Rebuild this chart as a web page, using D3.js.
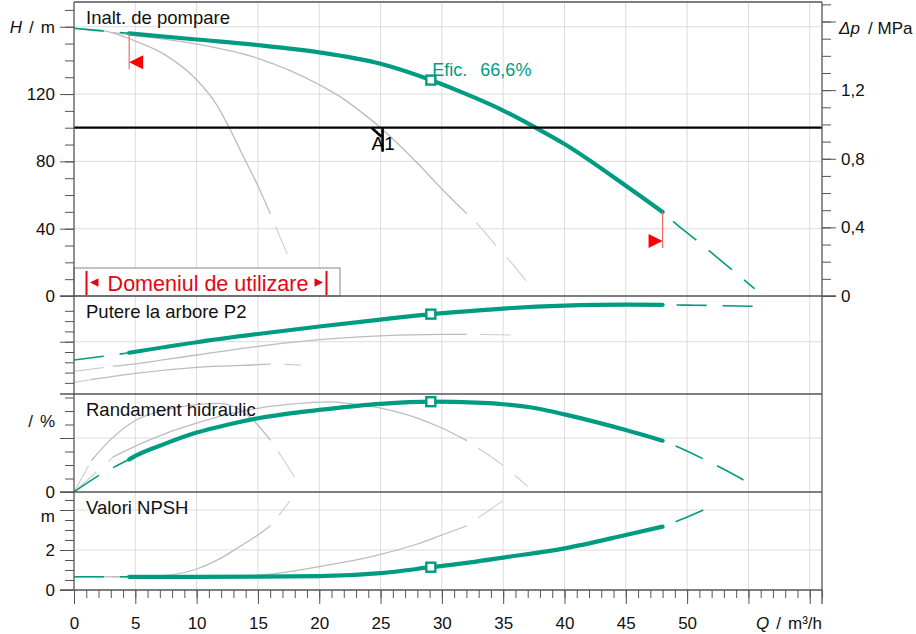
<!DOCTYPE html>
<html>
<head>
<meta charset="utf-8">
<script src="https://cdn.jsdelivr.net/npm/d3@7"></script>
<style>
  body { margin: 0; background: #fff; }
  text { font-family: "Liberation Sans", Arial, sans-serif; }
</style>
</head>
<body>
<svg id="chart" width="916" height="634"></svg>
<script>
// ---- values ----
const qTickLabels = [0, 5, 10, 15, 20, 25, 30, 35, 40, 45, 50];
const mainRange = [4.5, 48];   // Domeniul de utilizare
const smallRange = [1.44, 16];
const midRange = [3.2, 32];

// Inalt. de pompare (H, m)
const headMainQ = [0, 2.4, 4.5, 10, 15, 20, 25, 29.1, 31.1, 35, 37.65, 40, 45, 48, 49.1, 51, 52.1, 54, 55.5];
const headMain = [159.1, 157.5, 156.1, 152.4, 149.1, 144.8, 138, 128.3, 122.6, 110.2, 100, 90.3, 65.5, 49.9, 42.8, 31.7, 25.0, 13.5, 4.3];
const headSmallQ = [0, 1.44, 2.5, 5, 7.5, 10, 11.6, 12.66, 13.8, 15, 16, 16.5, 17.47];
const headSmall = [158.8, 158.4, 157.6, 151.5, 143, 128.5, 114, 100, 83, 65.4, 49.1, 40.2, 23.8];
const headMidQ = [0, 3.2, 5, 10, 15, 20, 22, 23.3, 25, 28, 30, 32, 33.1, 34.6, 35.7, 37.2];
const headMid = [159, 156.5, 154.8, 149.7, 141.2, 125.5, 117, 110, 100, 79, 63.6, 49.1, 41.2, 28.3, 19.5, 5.7];

// Putere la arbore P2 (no values printed on the sheet)
const powerMainQ = [0, 2.4, 4.5, 10, 15, 20, 25, 29.1, 31.1, 35, 40, 45, 48, 50, 53, 55.6];
const powerMain = [8.22, 8.58, 8.93, 9.95, 10.75, 11.48, 12.15, 12.68, 12.88, 13.22, 13.5, 13.6, 13.58, 13.55, 13.5, 13.43];
const powerSmallQ = [0, 1.44, 5, 10, 15, 16, 17.3, 18.55];
const powerSmall = [6.05, 6.33, 6.93, 7.51, 7.77, 7.83, 7.8, 7.74];
const powerMidQ = [0, 3.2, 5, 10, 15, 20, 25, 30, 32, 34.6, 36.6];
const powerMid = [7.12, 7.62, 7.85, 8.71, 9.55, 10.2, 10.57, 10.72, 10.72, 10.67, 10.62];

// Randament hidraulic (%)
const effMainQ = [0, 2.06, 3.3, 4.5, 5, 7.5, 10, 12.5, 15, 18.3, 20, 25, 29.1, 31, 35, 38, 40, 45, 48, 49.3, 51.5, 53, 55];
const effMain = [0, 12.4, 18.6, 24.1, 26.7, 36, 44, 49.8, 54.6, 59, 60.8, 65.3, 66.9, 66.7, 65, 61.5, 57.5, 45.9, 38, 33.1, 23.7, 16.8, 6.9];
const effSmallQ = [0, 1.44, 3, 5, 7.5, 10, 11.8, 13, 14, 15, 16, 17.1, 18.15];
const effSmall = [0, 23.5, 39, 53, 61, 64.8, 65.6, 63.5, 58, 49.5, 38.6, 23.7, 8.7];
const effMidQ = [0, 3.2, 5, 7.5, 10, 12.5, 15, 17.5, 20, 21, 22.5, 25, 28, 30, 32, 33.25, 35.15, 36.3, 37];
const effMid = [0, 26, 34, 43.5, 51, 57.5, 62, 64.9, 66.6, 66.7, 65.5, 62.2, 54.8, 47.4, 38.2, 30.8, 18.5, 9.6, 4.2];

// Valori NPSH (m)
const npshMainQ = [0, 4.5, 10, 15, 20, 25, 29.1, 32.3, 35, 40, 45, 48, 49.3, 51.6];
const npshMain = [0.66, 0.66, 0.66, 0.67, 0.69, 0.84, 1.14, 1.38, 1.62, 2.08, 2.75, 3.17, 3.47, 4.08];
const npshSmallQ = [0, 1.44, 5, 7.3, 10, 12.2, 13.5, 15, 16, 16.9, 17.6];
const npshSmall = [0.66, 0.66, 0.67, 0.72, 1.05, 1.67, 2.17, 2.75, 3.2, 3.88, 4.45];
const npshMidQ = [0, 3.2, 10, 14.5, 20, 25, 28, 30, 32, 33.1, 35];
const npshMid = [0.66, 0.66, 0.67, 0.72, 1.17, 1.78, 2.3, 2.75, 3.2, 3.66, 4.48];

// duty point (square markers) and required head A1
const dutyQ = 29.1, dutyH = 128.3, dutyP = 12.68, dutyEff = 66.9, dutyNpsh = 1.14;
const dutyLabel = "66,6%";
const reqQ = 25, reqH = 100;

// ---- layout ----
const green = "#009c82", grey = "#bcbcbc", greyDash = "#cdcdcd", red = "#e30613";
const left = 74, right = 822;
const x = d3.scaleLinear().domain([0, 61]).range([left, right]);
const yHead = d3.scaleLinear().domain([0, 174.7]).range([296, 2]);
const yDp = d3.scaleLinear().domain([0, 174.7 * 0.00981]).range([296, 2]);
const yPow = d3.scaleLinear().domain([4.92, 14.44]).range([394, 296]);
const yEff = d3.scaleLinear().domain([0, 72.6]).range([492, 394]);
const yNpsh = d3.scaleLinear().domain([0, 4.9]).range([590, 492]);

const svg = d3.select("#chart");

// clip rects per panel
const defs = svg.append("defs");
[["cHead", 2, 296], ["cPow", 296, 394], ["cEff", 394, 492], ["cNpsh", 492, 590]].forEach(([id, t, b]) => {
  defs.append("clipPath").attr("id", id)
    .append("rect").attr("x", left).attr("y", t).attr("width", right - left).attr("height", b - t);
});

// grid
const grid = svg.append("g").attr("stroke", "#dcdcdc").attr("stroke-width", 1);
grid.selectAll(".v").data(d3.range(5, 61, 5)).join("line")
  .attr("x1", d => x(d)).attr("x2", d => x(d)).attr("y1", 2).attr("y2", 590);
[[yHead, [40, 80, 120, 160]], [yPow, [10]], [yEff, [40]], [yNpsh, [2, 4]]].forEach(([y, vals]) => {
  grid.append("g").selectAll("line").data(vals).join("line")
    .attr("x1", left).attr("x2", right).attr("y1", d => y(d)).attr("y2", d => y(d));
});

// curves
const line = y => d3.line().x(p => x(p[0])).y(p => y(p[1])).curve(d3.curveMonotoneX);

function drawCurve(layer, y, qs, vs, range, isMain) {
  const pts = qs.map((q, i) => [q, vs[i]]);
  const lead = pts.filter(p => p[0] <= range[0]);
  const solid = pts.filter(p => p[0] >= range[0] && p[0] <= range[1]);
  const tail = pts.filter(p => p[0] >= range[1]);
  const dashStroke = isMain ? green : greyDash;
  const dashWidth = isMain ? 1.6 : 1.1;
  if (lead.length > 1) {
    layer.append("path").attr("d", line(y)(lead)).attr("fill", "none")
      .attr("stroke", dashStroke).attr("stroke-width", dashWidth)
      .attr("stroke-dasharray", "30 16");
  }
  if (tail.length > 1) {
    layer.append("path").attr("d", line(y)(tail)).attr("fill", "none")
      .attr("stroke", dashStroke).attr("stroke-width", dashWidth)
      .attr("stroke-dasharray", "30 16").attr("stroke-dashoffset", 32);
  }
  layer.append("path").attr("d", line(y)(solid)).attr("fill", "none")
    .attr("stroke", isMain ? green : grey).attr("stroke-width", isMain ? 4.2 : 1.3)
    .attr("stroke-linecap", "round");
}

const panels = [
  ["cHead", yHead, [headSmallQ, headSmall], [headMidQ, headMid], [headMainQ, headMain]],
  ["cPow", yPow, [powerSmallQ, powerSmall], [powerMidQ, powerMid], [powerMainQ, powerMain]],
  ["cEff", yEff, [effSmallQ, effSmall], [effMidQ, effMid], [effMainQ, effMain]],
  ["cNpsh", yNpsh, [npshSmallQ, npshSmall], [npshMidQ, npshMid], [npshMainQ, npshMain]]
];
panels.forEach(([clip, y, sm, md, mn]) => {
  const g = svg.append("g").attr("clip-path", `url(#${clip})`);
  drawCurve(g, y, sm[0], sm[1], smallRange, false);
  drawCurve(g, y, md[0], md[1], midRange, false);
  drawCurve(g, y, mn[0], mn[1], mainRange, true);
});

// required head line + A1 mark
svg.append("line").attr("x1", left).attr("x2", right)
  .attr("y1", yHead(reqH)).attr("y2", yHead(reqH))
  .attr("stroke", "#000").attr("stroke-width", 2.2);
svg.append("line").attr("x1", x(reqQ) + 2).attr("x2", x(reqQ) + 2)
  .attr("y1", yHead(reqH)).attr("y2", yHead(reqH) + 24)
  .attr("stroke", "#000").attr("stroke-width", 2.6);
svg.append("line").attr("x1", x(reqQ) - 9).attr("x2", x(reqQ) + 1)
  .attr("y1", yHead(reqH)).attr("y2", yHead(reqH) + 9)
  .attr("stroke", "#000").attr("stroke-width", 2.6);
svg.append("text").attr("x", x(reqQ) - 9).attr("y", yHead(reqH) + 22)
  .attr("font-size", 19).attr("fill", "#000").text("A1");

// duty point markers
[[yHead, dutyH], [yPow, dutyP], [yEff, dutyEff], [yNpsh, dutyNpsh]].forEach(([y, v]) => {
  svg.append("rect").attr("x", x(dutyQ) - 4.5).attr("y", y(v) - 4.5)
    .attr("width", 9).attr("height", 9)
    .attr("fill", "#fff").attr("stroke", green).attr("stroke-width", 2.4);
});
const eff = svg.append("text").attr("x", x(dutyQ) + 1.5).attr("y", yHead(dutyH) - 4)
  .attr("font-size", 18).attr("fill", green);
eff.append("tspan").text("Efic.");
eff.append("tspan").attr("dx", 13).text(dutyLabel);

// operating range limits on the head curve
const headAt = d3.scaleLinear().domain(headMainQ).range(headMain);
mainRange.forEach((q, i) => {
  const px = x(q), py = yHead(headAt(q));
  svg.append("line").attr("x1", px).attr("x2", px).attr("y1", py).attr("y2", py + 36)
    .attr("stroke", "#f06a6a").attr("stroke-width", 1.2);
  const ty = py + 29;
  const tri = i === 0
    ? [[px, ty], [px + 14, ty - 7], [px + 14, ty + 7]]
    : [[px, ty], [px - 14, ty - 7], [px - 14, ty + 7]];
  svg.append("polygon").attr("points", tri.map(p => p.join(",")).join(" ")).attr("fill", "#ff0000");
});

// legend box
const lg = svg.append("g");
lg.append("rect").attr("x", left).attr("y", 268).attr("width", 266).attr("height", 28)
  .attr("fill", "#fff").attr("stroke", "#888").attr("stroke-width", 1);
lg.append("line").attr("x1", 86.5).attr("x2", 86.5).attr("y1", 271).attr("y2", 295)
  .attr("stroke", red).attr("stroke-width", 2);
lg.append("line").attr("x1", 326.5).attr("x2", 326.5).attr("y1", 271).attr("y2", 295)
  .attr("stroke", red).attr("stroke-width", 2);
lg.append("polygon").attr("points", "90,282.5 98.5,278.3 98.5,286.7").attr("fill", red);
lg.append("polygon").attr("points", "323,282.5 314.5,278.3 314.5,286.7").attr("fill", red);
lg.append("text").attr("x", 208).attr("y", 291).attr("text-anchor", "middle")
  .attr("font-size", 21.5).attr("fill", red).text("Domeniul de utilizare");

// frame and panel separators
const frame = svg.append("g").attr("stroke", "#555").attr("stroke-width", 1.3);
frame.append("line").attr("x1", left).attr("x2", right).attr("y1", 2).attr("y2", 2);
frame.append("line").attr("x1", left).attr("x2", left).attr("y1", 2).attr("y2", 590);
frame.append("line").attr("x1", right).attr("x2", right).attr("y1", 2).attr("y2", 604);
[[296, 836], [394, right], [492, right], [590, right]].forEach(([yy, x2]) => {
  frame.append("line").attr("x1", 60).attr("x2", x2).attr("y1", yy).attr("y2", yy);
});

// axes
function styleAxis(g) {
  g.select(".domain").remove();
  g.selectAll(".tick line").attr("stroke", "#555");
  g.selectAll(".tick text").attr("font-size", 17).attr("fill", "#111")
    .attr("font-family", '"Liberation Sans", Arial, sans-serif');
}
function leftAxis(y, minor, major, fmt) {
  svg.append("g").attr("transform", `translate(${left},0)`)
    .call(d3.axisLeft(y).tickValues(minor).tickSize(9).tickFormat("")).call(styleAxis);
  svg.append("g").attr("transform", `translate(${left},0)`)
    .call(d3.axisLeft(y).tickValues(major).tickSize(14).tickPadding(5).tickFormat(fmt)).call(styleAxis);
}
leftAxis(yHead, d3.range(10, 171, 10), [0, 40, 80, 120, 160], d => d === 160 ? "" : d);
leftAxis(yPow, d3.range(6, 14), [10], () => "");
leftAxis(yEff, d3.range(10, 71, 10), [0, 40], d => d === 0 ? "0" : "");
leftAxis(yNpsh, d3.range(0.5, 4.6, 0.5), [0, 2, 4], d => d === 4 ? "" : d);

svg.append("g").attr("transform", `translate(${right},0)`)
  .call(d3.axisRight(yDp).tickValues(d3.range(1, 18).map(i => i / 10)).tickSize(9).tickFormat(""))
  .call(styleAxis);
svg.append("g").attr("transform", `translate(${right},0)`)
  .call(d3.axisRight(yDp).tickValues([0, 0.4, 0.8, 1.2, 1.6]).tickSize(14).tickPadding(5)
    .tickFormat(d => d === 1.6 ? "" : String(d).replace(".", ",")))
  .call(styleAxis);

svg.append("g").attr("transform", "translate(0,590)")
  .call(d3.axisBottom(x).tickValues(d3.range(0, 62)).tickSize(8).tickFormat("")).call(styleAxis);
svg.append("g").attr("transform", "translate(0,590)")
  .call(d3.axisBottom(x).tickValues(d3.range(0, 61, 5)).tickSize(14).tickPadding(13)
    .tickFormat(d => qTickLabels.includes(d) ? d : ""))
  .call(styleAxis);

// unit labels
function unitLabel(xx, yy, anchor, parts) {
  const t = svg.append("text").attr("x", xx).attr("y", yy).attr("text-anchor", anchor)
    .attr("font-size", 17).attr("fill", "#111");
  parts.forEach(([s, italic, dx]) => {
    const sp = t.append("tspan").text(s);
    if (italic) sp.attr("font-style", "italic");
    if (dx) sp.attr("dx", dx);
  });
}
unitLabel(55, yHead(160) + 6, "end", [["H", true], ["/", false, 7], ["m", false, 7]]);
unitLabel(839, yDp(1.6) + 12, "start", [["\u0394p", true], ["/", false, 8], ["MPa", false, 5]]);
unitLabel(55, yEff(50) + 2, "end", [["/", false], ["%", false, 7]]);
unitLabel(55, yNpsh(4) + 12, "end", [["m", false]]);
unitLabel(right, 629, "end", [["Q", true], ["/", false, 7], ["m\u00b3/h", false, 7]]);

// panel titles
[["Inalt. de pompare", 2], ["Putere la arbore P2", 296], ["Randament hidraulic", 394], ["Valori NPSH", 492]]
  .forEach(([s, top]) => {
    svg.append("text").attr("x", 86).attr("y", top + 21.5)
      .attr("font-size", 18.5).attr("fill", "#111").text(s);
  });
</script>
</body>
</html>
